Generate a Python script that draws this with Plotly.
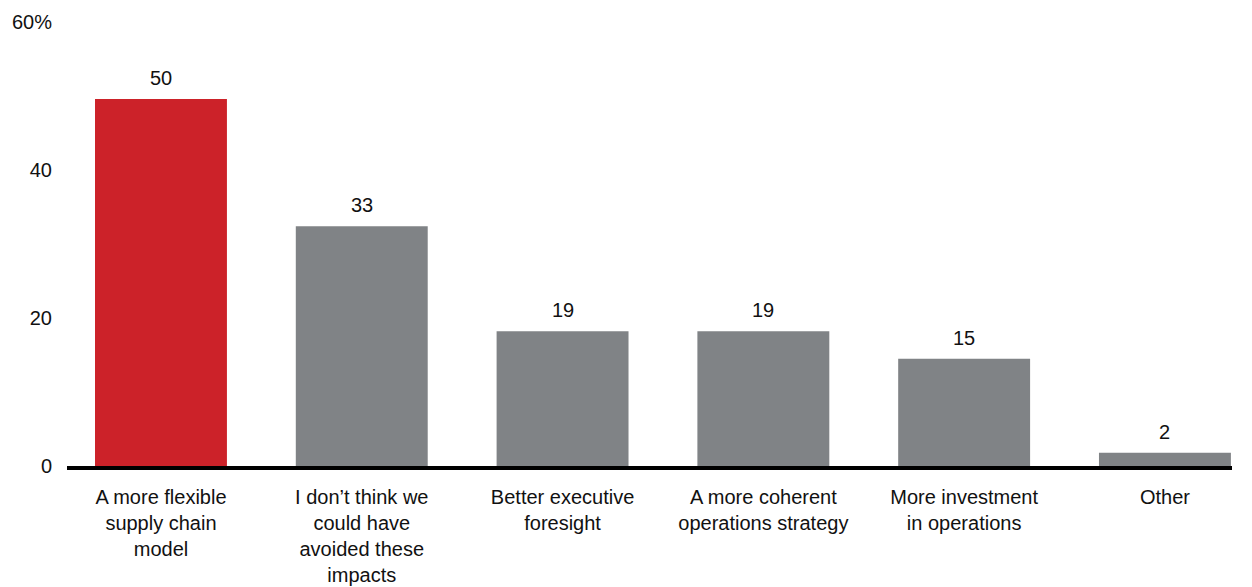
import plotly.graph_objects as go

categories = [
    "A more flexible<br>supply chain<br>model",
    "I don’t think we<br>could have<br>avoided these<br>impacts",
    "Better executive<br>foresight",
    "A more coherent<br>operations strategy",
    "More investment<br>in operations",
    "Other",
]
values = [49.6, 32.4, 18.2, 18.2, 14.5, 1.8]
value_labels = ["50", "33", "19", "19", "15", "2"]
bar_colors = ["#CC2229", "#808386", "#808386", "#808386", "#808386", "#808386"]
y_tick_vals = [0, 20, 40, 60]
y_tick_text = ["0", "20", "40", "60%"]

positions = list(range(len(categories)))
FONT = "Liberation Sans, Arial, sans-serif"
FS = 20

fig = go.Figure()
fig.add_trace(go.Bar(
    x=positions, y=values, width=0.657,
    marker=dict(color=bar_colors, line=dict(width=0)),
    hoverinfo="skip",
))

for xi, v, lab in zip(positions, values, value_labels):
    fig.add_annotation(x=xi, y=v, text=lab, showarrow=False,
                       yanchor="bottom", yshift=8,
                       font=dict(family=FONT, size=FS, color="#111111"))

fig.update_layout(
    width=1252, height=587,
    margin=dict(l=67, r=20, t=22, b=121, autoexpand=False),
    paper_bgcolor="white", plot_bgcolor="white",
    showlegend=False,
    font=dict(family=FONT, size=FS, color="#111111"),
    xaxis=dict(
        range=[-0.468, 5.334],
        tickmode="array", tickvals=positions, ticktext=categories,
        showgrid=False, zeroline=False,
        showline=True, linecolor="#000000", linewidth=4,
        ticks="", ticklabelstandoff=10, automargin=False,
        tickfont=dict(family=FONT, size=FS, color="#111111"),
        fixedrange=True,
    ),
    yaxis=dict(
        range=[0, 60],
        tickmode="array", tickvals=y_tick_vals, ticktext=y_tick_text,
        showgrid=False, zeroline=False, showline=False,
        ticks="", ticklabelstandoff=14, automargin=False,
        tickfont=dict(family=FONT, size=FS, color="#111111"),
        fixedrange=True,
    ),
)

fig.write_html("out.html", config={"displayModeBar": False})
